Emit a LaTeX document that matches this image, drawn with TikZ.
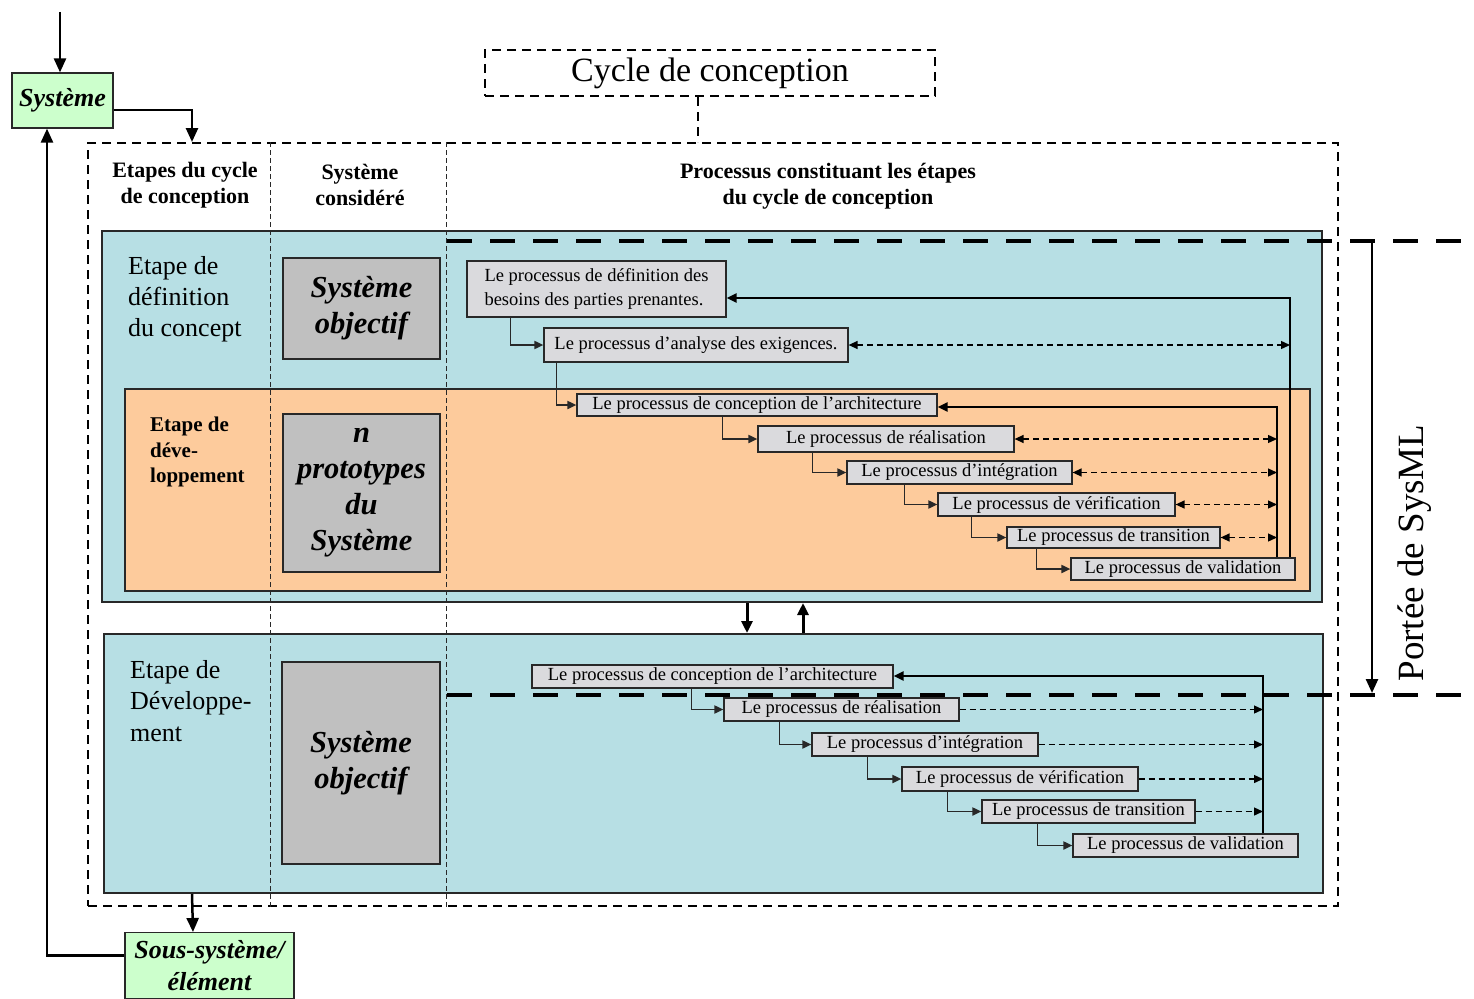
\documentclass[tikz,border=0pt]{standalone}
\usepackage{fontspec}
\setmainfont{Liberation Serif}
\usetikzlibrary{arrows.meta,positioning}
\definecolor{bleuetape}{RGB}{183,223,228}
\definecolor{orangeetape}{RGB}{253,203,156}
\definecolor{grisproc}{RGB}{218,218,221}
\definecolor{grissys}{RGB}{192,192,192}
\definecolor{vertsys}{RGB}{204,255,204}
\definecolor{trait}{RGB}{40,40,40}
\newcommand{\fs}[2]{\fontsize{#1}{#2}\selectfont}

\begin{document}
\begin{tikzpicture}[
    x=1pt, y=-1pt,
    etape/.style={draw=trait, line width=2pt, fill=bleuetape, inner sep=0pt},
    cadre/.style={draw, line width=2pt, dash pattern=on 9pt off 6pt},
    colonne/.style={draw=trait, line width=1pt, dash pattern=on 5pt off 3pt},
    entete/.style={align=center, inner sep=0pt, font=\fs{22}{26}\bfseries},
    texte/.style={align=left, anchor=west, inner sep=0pt},
    sysbox/.style={draw=trait, line width=1.5pt, fill=grissys, align=center, font=\fs{30.5}{36}\bfseries\itshape},
    vert/.style={draw=trait, line width=1.2pt, fill=vertsys, align=center, inner sep=0pt, font=\fs{26}{32}\bfseries\itshape},
    proc/.style={draw=trait, line width=1.2pt, fill=grisproc, inner sep=0pt, font=\fs{18.5}{24}},
    lien/.style={draw=trait, line width=1.8pt, -{Triangle[length=9pt,width=8pt]}},
    retour/.style={line width=2.5pt, -{Triangle[length=10pt,width=9pt]}},
    echange/.style={line width=1.3pt, dash pattern=on 6pt off 4pt, {Triangle[length=9pt,width=8pt]}-{Triangle[length=9pt,width=8pt]}},
    suivi/.style={line width=1.3pt, dash pattern=on 6pt off 4pt, -{Triangle[length=9pt,width=8pt]}},
    grosse/.style={line width=2.5pt, -{Triangle[length=14pt,width=12pt]}},
    moyenne/.style={line width=3pt, -{Triangle[length=12pt,width=11pt]}},
    portee/.style={line width=4.5pt, dash pattern=on 25pt off 18pt}
  ]
  \useasboundingbox (0,0) rectangle (1474,998);

  % cadre et titre
  \node[cadre, minimum width=1250pt, minimum height=763pt] (cadre) at (713,524.5) {};
  \node[cadre, minimum width=450pt, minimum height=46pt, font=\fs{34}{40}] (titre) at (710,73) {Cycle de conception};
  \coordinate (tt) at ([xshift=-12]titre.south);
  \draw[cadre] (tt) -- (tt |- cadre.north);

  % en-tetes
  \node[entete] (h1) at (185,185) {Etapes du cycle\\de conception};
  \node[entete] (h2) at (360,185) {Système\\considéré};
  \node[entete] (h3) at (828,186) {Processus constituant les étapes\\du cycle de conception};

  % etapes
  \node[etape, minimum width=1220pt, minimum height=371pt] (bleu1) at (712,416.5) {};
  \node[etape, fill=orangeetape, line width=1.5pt, minimum width=1185pt, minimum height=202pt] (orange) at (717.5,490) {};
  \node[etape, minimum width=1219pt, minimum height=259pt] (bleu2) at (713.5,763.5) {};
  \foreach \dx in {183,359} \draw[colonne] ([xshift=\dx]cadre.north west) -- ([xshift=\dx]cadre.south west);

  \node[texte, font=\fs{26}{31}] (t1) at (128,299) {Etape de\\définition\\du concept};
  \node[texte, font=\fs{21}{25.5}\bfseries] (t2) at (150,452) {Etape de\\déve-\\loppement};
  \node[texte, font=\fs{26}{31.5}] (t3) at (130,701) {Etape de\\Développe-\\ment};

  \node[sysbox, minimum width=157pt, minimum height=101pt] (g1) at (361.5,308.5) {Système\\objectif};
  \node[sysbox, minimum width=157pt, minimum height=158pt] (g2) at (361.5,493) {n\\prototypes\\du\\Système};
  \node[sysbox, minimum width=158pt, minimum height=202pt] (g3) at (361,763) {Système\\objectif};

  % processus
  \node[proc, align=left, minimum width=259pt, minimum height=56pt] (p1) at (596.5,289) {Le processus de définition des\\besoins des parties prenantes.};
  \node[proc, minimum width=304pt, minimum height=34pt] (p2) at (696,345) {Le processus d’analyse des exigences.};
  \node[proc, minimum width=360pt, minimum height=22pt] (p3) at (757,405) {Le processus de conception de l’architecture};
  \node[proc, minimum width=256pt, minimum height=26pt] (p4) at (886,439) {Le processus de réalisation};
  \node[proc, minimum width=225pt, minimum height=23pt] (p5) at (959.5,472.5) {Le processus d’intégration};
  \node[proc, minimum width=237pt, minimum height=23pt] (p6) at (1056.5,504.5) {Le processus de vérification};
  \node[proc, minimum width=213pt, minimum height=21pt] (p7) at (1113.5,537.5) {Le processus de transition};
  \node[proc, minimum width=224pt, minimum height=22pt] (p8) at (1183,569) {Le processus de validation};

  \node[proc, minimum width=361pt, minimum height=23pt] (q3) at (712.5,676.5) {Le processus de conception de l’architecture};
  \node[proc, minimum width=235pt, minimum height=23pt] (q4) at (841.5,709.5) {Le processus de réalisation};
  \node[proc, minimum width=226pt, minimum height=23pt] (q5) at (925,744.5) {Le processus d’intégration};
  \node[proc, minimum width=236pt, minimum height=24pt] (q6) at (1020,779) {Le processus de vérification};
  \node[proc, minimum width=213pt, minimum height=23pt] (q7) at (1088.5,811.5) {Le processus de transition};
  \node[proc, minimum width=225pt, minimum height=23pt] (q8) at (1185.5,845.5) {Le processus de validation};

  \foreach \a/\b/\dx in {p1/p2/44,p2/p3/13,p3/p4/146,p4/p5/55,p5/p6/58,p6/p7/34,p7/p8/30,q3/q4/160,q4/q5/56,q5/q6/56,q6/q7/46,q7/q8/56}
    \draw[lien] ([xshift=\dx]\a.south west) |- (\b.west);

  % retours
  \coordinate (bus1) at (1290,298);
  \coordinate (bus2) at (1277,407);
  \coordinate (bus3) at (1263,676);
  \draw[retour] (p8.north -| bus1) -- (bus1) -- (bus1 -| p1.east);
  \draw[retour] (p8.north -| bus2) -- (bus2) -- (bus2 -| p3.east);
  \draw[retour] (q8.north -| bus3) -- (bus3) -- (bus3 -| q3.east);
  \draw[echange] (p2.east) -- (p2.east -| bus1);
  \foreach \n in {p4,p5,p6,p7} \draw[echange] (\n.east) -- (\n.east -| bus2);
  \foreach \n in {q4,q5,q6,q7} \draw[suivi] (\n.east) -- (\n.east -| bus3);

  % passage entre etapes
  \coordinate (desc) at (747,618);
  \coordinate (mont) at (803,618);
  \draw[moyenne] (desc |- bleu1.south) -- (desc |- bleu2.north);
  \draw[moyenne] (mont |- bleu2.north) -- (mont |- bleu1.south);

  % systeme et sous-systeme
  \node[vert, minimum width=101pt, minimum height=55pt] (sys) at (62.5,100.5) {Système};
  \node[vert, minimum width=169pt, minimum height=66pt, anchor=north] (sous) at (209.5,932) {Sous-système/\\élément};
  \coordinate (entree) at (60,12);
  \draw[grosse] (entree) -- (entree |- sys.north);
  \draw[grosse] ([yshift=-9.5]sys.east) -| ([xshift=105]cadre.north west);
  \draw[grosse] ([xshift=89]bleu2.south west) -- ([xshift=-16.5]sous.north);
  \draw[grosse] ([yshift=10]sous.west) -| ([xshift=-15.5]sys.south);

  % portee de SysML
  \draw[portee] (447,241) -- (1474,241);
  \draw[portee] (447,695) -- (1474,695);
  \coordinate (s1) at (1372,241);
  \coordinate (s2) at (1372,693);
  \draw[grosse] (s1) -- (s2);
  \node[rotate=90, font=\fs{37}{40}] (sysml) at (1415,553) {Portée de SysML};
\end{tikzpicture}
\end{document}
